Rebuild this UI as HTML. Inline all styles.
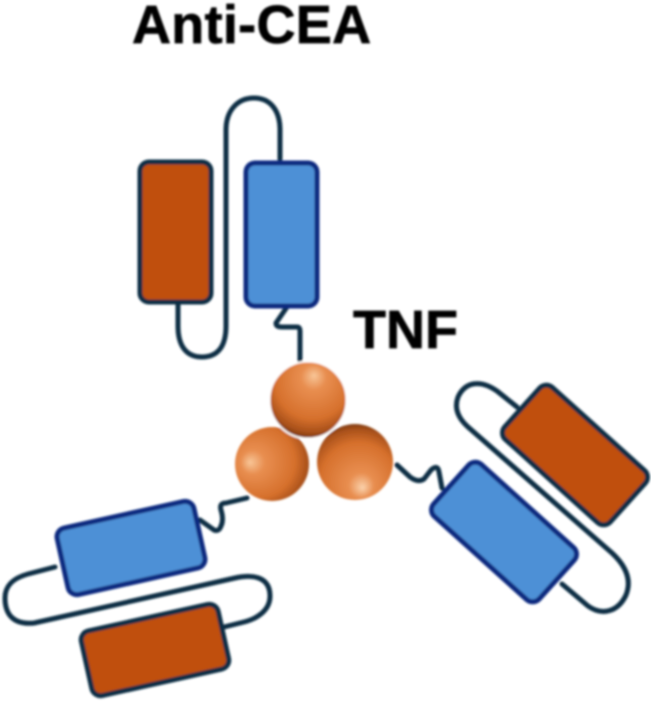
<!DOCTYPE html>
<html>
<head>
<meta charset="utf-8">
<style>
html,body{margin:0;padding:0;background:#fff;width:651px;height:702px;overflow:hidden}
svg{display:block}
text{font-family:"Liberation Sans",sans-serif;font-weight:700;font-size:54px;fill:#050505;stroke:#050505;stroke-width:0.7}
</style>
</head>
<body>
<svg width="651" height="702" viewBox="0 0 651 702" xmlns="http://www.w3.org/2000/svg">
<defs>
<filter id="b" x="-5%" y="-5%" width="110%" height="110%"><feGaussianBlur stdDeviation="0.95"/></filter>
<radialGradient id="s1" cx="0.55" cy="0.3" r="0.74" fx="0.58" fy="0.18">
<stop offset="0" stop-color="#f8c698"/><stop offset="0.22" stop-color="#e88e50"/><stop offset="0.66" stop-color="#d6702c"/><stop offset="0.86" stop-color="#a8501a"/><stop offset="1" stop-color="#5e2b0e"/>
</radialGradient>
<radialGradient id="s2" cx="0.38" cy="0.46" r="0.74" fx="0.2" fy="0.48">
<stop offset="0" stop-color="#f8c698"/><stop offset="0.22" stop-color="#e88e50"/><stop offset="0.66" stop-color="#d6702c"/><stop offset="0.86" stop-color="#a8501a"/><stop offset="1" stop-color="#5e2b0e"/>
</radialGradient>
<radialGradient id="s3" cx="0.52" cy="0.7" r="0.76" fx="0.6" fy="0.84">
<stop offset="0" stop-color="#fbd2ac"/><stop offset="0.22" stop-color="#e88e50"/><stop offset="0.66" stop-color="#d6702c"/><stop offset="0.86" stop-color="#a8501a"/><stop offset="1" stop-color="#5e2b0e"/>
</radialGradient>
</defs>
<g filter="url(#b)">
<text x="132" y="43" letter-spacing="0.3">Anti-CEA</text>
<text x="353" y="348">TNF</text>

<g fill="none" stroke="#0e2f44" stroke-width="5" stroke-linejoin="round" stroke-linecap="round">
<path d="M178 303V326C178 348 188 357 202 357C218 357 226 346 226 326V130C226 110 238 98 254 98C270 98 280 110 280 130V159"/>
<path d="M287 307L276 323Q276 327 282 327H297Q300 327 300 331V361"/>
<path d="M55 567L28 574C10 579 5 588 5 598C5 615 14 625 34 623L235 578C258 573 270 580 270 596C270 611 256 619 244 622L224 627"/>
<path d="M200 520L214 530Q219 532 221 526Q224 520 221 510Q219 503 226 503L247 498"/>
<path d="M517 407L497 391C480 379 465 382 458 397C454 408 458 418 468 427L612 553C626 566 632 580 626 595C618 612 602 616 588 606L562 584"/>
<path d="M397 465L410 477Q418 483 424 479L431 470Q438 464 439 472L442 488"/>
</g>

<rect x="140" y="162" width="71" height="140" rx="9" fill="#c0500f" stroke="#0e2f44" stroke-width="5"/>
<rect x="246" y="163" width="71" height="143" rx="9" fill="#4e90d6" stroke="#0f2c80" stroke-width="5"/>

<rect x="-70" y="-34" width="140" height="68" rx="9" transform="translate(131 548) rotate(-12.5)" fill="#4e90d6" stroke="#0f2c80" stroke-width="5"/>
<rect x="-70" y="-33" width="140" height="66" rx="9" transform="translate(155 650) rotate(-12.5)" fill="#c0500f" stroke="#0e2f44" stroke-width="5"/>

<rect x="-71" y="-35" width="142" height="70" rx="9" transform="translate(504 532) rotate(42)" fill="#4e90d6" stroke="#0f2c80" stroke-width="5"/>
<rect x="-71" y="-35" width="142" height="70" rx="9" transform="translate(575 455) rotate(42)" fill="#c0500f" stroke="#0e2f44" stroke-width="5"/>

<circle cx="272" cy="464" r="37" fill="url(#s2)"/>
<circle cx="355" cy="462" r="38" fill="url(#s3)"/>
<circle cx="308" cy="400" r="38.5" fill="url(#s1)" stroke="#fff" stroke-width="2"/>
</g>
</svg>
</body>
</html>
